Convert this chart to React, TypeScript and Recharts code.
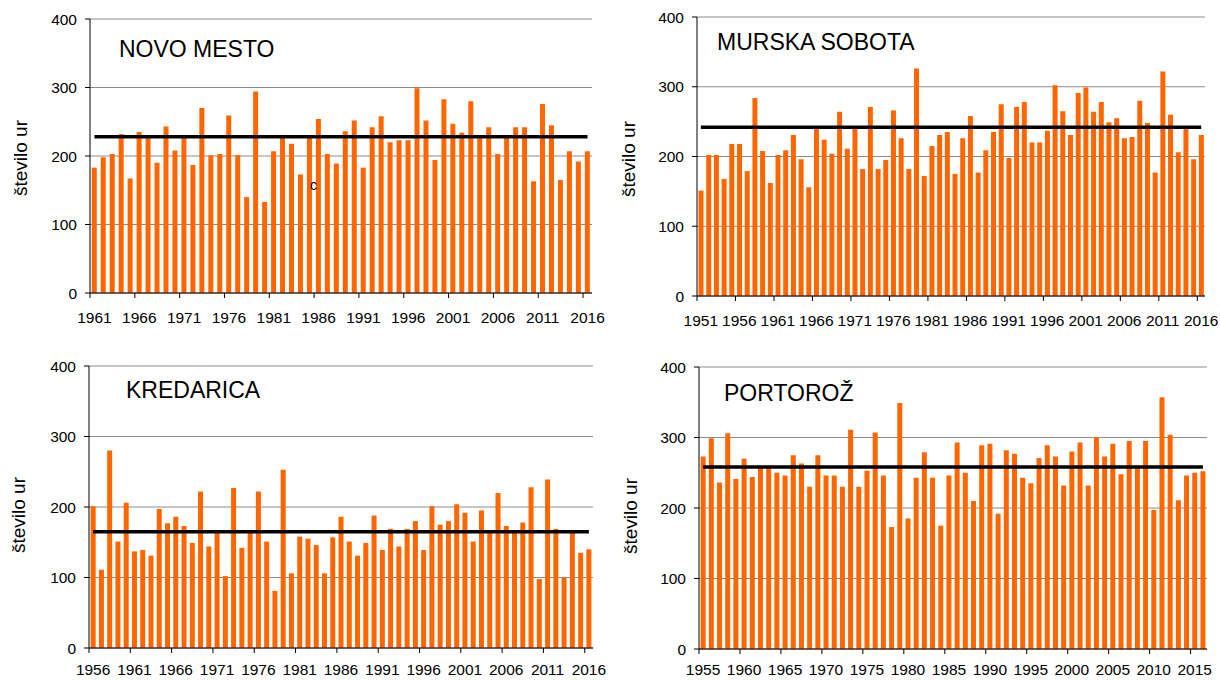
import { ComposedChart, Bar, Line, XAxis, YAxis, CartesianGrid } from 'recharts'

const FONT = '"Liberation Sans", Arial, sans-serif'
const BAR = '#ff6600'

// letne vsote ur (odčitano z grafa)
const novoHours = [
  183, 198, 203, 232, 167, 235, 227, 190, 243, 208,
  227, 187, 270, 201, 203, 259, 201, 140, 294, 133,
  207, 227, 218, 173, 227, 254, 203, 189, 236, 252,
  183, 242, 258, 220, 223, 223, 299, 252, 194, 283,
  247, 234, 280, 227, 242, 203, 227, 242, 242, 163,
  276, 245, 165, 207, 192, 207,
]
const novoMean = 228

const murskaHours = [
  151, 202, 202, 168, 218, 218, 179, 284, 208, 162,
  202, 209, 231, 196, 156, 242, 224, 204, 264, 211,
  242, 182, 271, 182, 195, 266, 226, 182, 326, 172,
  215, 231, 235, 175, 226, 258, 177, 209, 235, 275,
  198, 271, 278, 220, 220, 237, 302, 265, 231, 291,
  299, 264, 278, 249, 255, 226, 228, 280, 248, 177,
  322, 260, 206, 242, 196, 231,
]
const murskaMean = 242

const kredHours = [
  201, 111, 280, 151, 206,
  137, 139, 131, 197, 177, 186, 173, 149, 222, 144,
  165, 102, 227, 142, 165, 222, 151, 81, 253, 106,
  158, 155, 146, 106, 157, 186, 151, 131, 149, 188,
  139, 169, 144, 169, 180, 139, 201, 175, 180, 204,
  192, 151, 195, 165, 220, 173, 165, 178, 228, 98,
  239, 169, 100, 165, 135, 140,
]
const kredMean = 165

const portHours = [
  273, 299, 236, 306, 241, 270,
  244, 257, 258, 250, 246, 275, 263, 230, 275, 246,
  246, 230, 311, 230, 253, 307, 246, 173, 349, 185,
  243, 279, 243, 175, 246, 293, 250, 210, 289, 291,
  192, 282, 277, 243, 235, 271, 289, 273, 232, 280,
  293, 232, 300, 273, 291, 248, 295, 258, 295, 197,
  357, 304, 211, 246, 250, 252,
]
const portMean = 258

const yearsFrom = (start: number, n: number) => Array.from({ length: n }, (_, i) => String(start + i))

const novoYears = yearsFrom(1961, novoHours.length)
const murskaYears = yearsFrom(1951, murskaHours.length)
const kredYears = yearsFrom(1956, kredHours.length)
const portYears = yearsFrom(1955, portHours.length)

const yTicks = [0, 100, 200, 300, 400]

const rows = (cats: string[], vals: number[], mean: number) =>
  cats.map((c, i) => ({ year: c, hours: vals[i], mean }))

function YearTick(props: any) {
  const { x, y, payload, band, dy } = props
  const tx = x - band / 2
  return (
    <g>
      <line x1={tx} x2={tx} y1={y} y2={y + 5} stroke="#000" strokeWidth={1} />
      <text x={x} y={y + dy} textAnchor="middle" fontSize={15.5} fontFamily={FONT} fill="#000">
        {payload.value}
      </text>
    </g>
  )
}

interface PanelProps {
  left: number
  top: number
  x0: number
  x1: number
  y0: number
  y1: number
  labelDy: number
  data: { year: string; hours: number; mean: number }[]
}

function Panel({ left, top, x0, x1, y0, y1, labelDy, data }: PanelProps) {
  const W = 610, H = 340, XH = 30
  const band = (x1 - x0) / data.length
  return (
    <div style={{ position: 'absolute', left, top }}>
      <ComposedChart
        width={W}
        height={H}
        data={data}
        margin={{ top: y0 - top, right: left + W - x1, bottom: top + H - y1 - XH, left: 0 }}
        barCategoryGap="20%"
      >
        <CartesianGrid vertical={false} stroke="#8c8c8c" />
        <XAxis
          dataKey="year"
          height={XH}
          interval={4}
          tickSize={0}
          tickMargin={0}
          tickLine={false}
          axisLine={{ stroke: '#000' }}
          tick={(p: any) => <YearTick {...p} band={band} dy={labelDy} />}
        />
        <YAxis
          width={x0 - left}
          domain={[0, 400]}
          ticks={yTicks}
          tickSize={5}
          tickMargin={8}
          axisLine={{ stroke: '#000' }}
          tickLine={{ stroke: '#000' }}
          tick={{ fontSize: 15.5, fill: '#000', fontFamily: FONT }}
        />
        <YAxis
          yAxisId="r"
          orientation="right"
          width={0}
          domain={[0, 400]}
          tick={false}
          tickLine={false}
          axisLine={{ stroke: '#999' }}
        />
        <Bar dataKey="hours" fill={BAR} isAnimationActive={false} />
        <Line dataKey="mean" stroke="#000" strokeWidth={3.5} dot={false} activeDot={false} isAnimationActive={false} />
      </ComposedChart>
    </div>
  )
}

const titles = [
  { text: 'NOVO MESTO', x: 119, y: 57 },
  { text: 'MURSKA SOBOTA', x: 717, y: 50 },
  { text: 'KREDARICA', x: 126, y: 398 },
  { text: 'PORTOROŽ', x: 724, y: 401 },
]

const yLabels = [
  { x: 26.5, y: 158 },
  { x: 635, y: 159 },
  { x: 25, y: 515 },
  { x: 636.5, y: 516 },
]

export default function App() {
  return (
    <div style={{ position: 'absolute', left: 0, top: 0, width: 1220, height: 680, background: '#fff', overflow: 'hidden' }}>
      <Panel left={0} top={0} x0={90} x1={592} y0={19} y1={293} labelDy={30} data={rows(novoYears, novoHours, novoMean)} />
      <Panel left={610} top={0} x0={697} x1={1205} y0={17} y1={296} labelDy={30} data={rows(murskaYears, murskaHours, murskaMean)} />
      <Panel left={0} top={340} x0={89} x1={593} y0={366} y1={648} labelDy={27} data={rows(kredYears, kredHours, kredMean)} />
      <Panel left={610} top={340} x0={699} x1={1207} y0={367} y1={649} labelDy={26} data={rows(portYears, portHours, portMean)} />
      <svg width={1220} height={680} style={{ position: 'absolute', left: 0, top: 0, pointerEvents: 'none' }}>
        {titles.map((t) => (
          <text key={t.text} x={t.x} y={t.y} fontSize={23} fontFamily={FONT} fill="#000">
            {t.text}
          </text>
        ))}
        {yLabels.map((l, i) => (
          <text
            key={i}
            x={l.x}
            y={l.y}
            transform={`rotate(-90 ${l.x} ${l.y})`}
            textAnchor="middle"
            fontSize={19}
            fontFamily={FONT}
            fill="#000"
          >
            število ur
          </text>
        ))}
        {/* zalutali znak iz izvirnika */}
        <text x={310} y={190} fontSize={14} fontFamily={FONT} fill="#000">c</text>
      </svg>
    </div>
  )
}
